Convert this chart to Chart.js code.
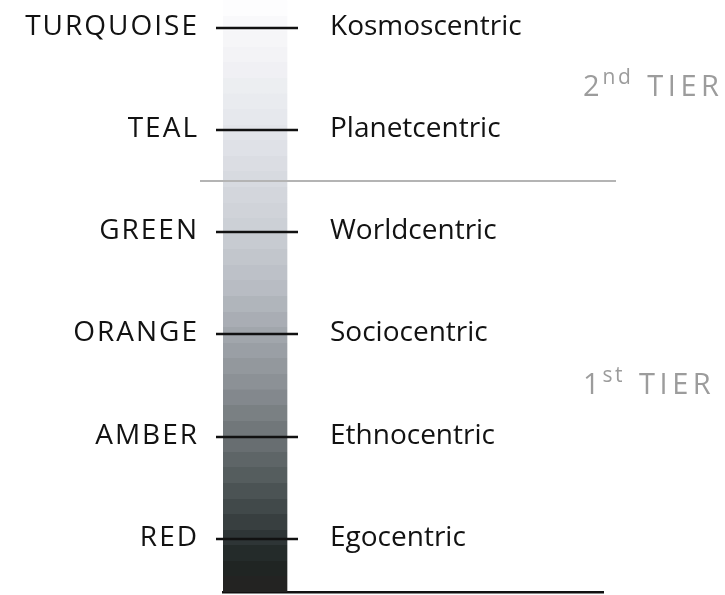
<!DOCTYPE html>
<html><head><meta charset="utf-8">
<script src="https://cdn.jsdelivr.net/npm/chart.js@4"></script>
<style>html,body{margin:0;padding:0;background:#fff}#wrap{width:725px;height:595px;position:relative}</style>
</head><body><div id="wrap"><canvas id="c"></canvas></div>
<script>
// ---- data ----
const levels = ['RED', 'AMBER', 'ORANGE', 'GREEN', 'TEAL', 'TURQUOISE'];
const perspectives = ['Egocentric', 'Ethnocentric', 'Sociocentric', 'Worldcentric', 'Planetcentric', 'Kosmoscentric'];
const levelValues = [0, 1, 2, 3, 4, 5];
const barRange = [-0.52, 5.27];
const tierBoundary = 3.5;
const tierNumbers = ['1', '2'];
const tierOrdinals = ['st', 'nd'];
const tierWords = ['TIER', 'TIER'];
const tierValues = [1.42, 4.33];

// ---- style ----
const FONT = '"Open Sans", Lato, sans-serif';
const STRIPES = 38;
const colorStops = [
  [0.000, '#242222'], [0.054, '#1f2624'], [0.090, '#2d3435'], [0.189, '#525a5b'],
  [0.262, '#6c7275'], [0.358, '#8d9297'], [0.438, '#a2a7ad'], [0.510, '#b7bbc2'],
  [0.611, '#cbcfd5'], [0.693, '#d6d9df'], [0.784, '#e4e6eb'], [0.953, '#f8f8fa'], [1.000, '#ffffff']
];
function hex(c){return [1,3,5].map(i=>parseInt(c.substr(i,2),16));}
function colorAt(f){
  for(let i=0;i<colorStops.length-1;i++){
    const [f0,c0]=colorStops[i],[f1,c1]=colorStops[i+1];
    if(f>=f0&&f<=f1){const t=(f-f0)/(f1-f0);const a=hex(c0),b=hex(c1);
      return 'rgb('+a.map((v,k)=>Math.round(v+(b[k]-v)*t)).join(',')+')';}
  }
  return colorStops[colorStops.length-1][1];
}
function stripeFill(ctx){
  const chart=ctx.chart, ys=chart.scales.y;
  if(!chart.chartArea||!ys) return '#888';
  const yb=ys.getPixelForValue(barRange[0]), yt=ys.getPixelForValue(barRange[1]);
  const g=chart.ctx.createLinearGradient(0,yb,0,yt);
  for(let i=0;i<STRIPES;i++){
    const c=colorAt((i+0.5)/STRIPES);
    g.addColorStop(i/STRIPES,c);
    g.addColorStop(Math.min(1,(i+1)/STRIPES-0.0001),c);
  }
  return g;
}

const spacing = {
  id:'spacing',
  beforeDraw(chart){ chart.ctx.letterSpacing='2px'; },
  afterDraw(chart){ chart.ctx.letterSpacing='0px'; }
};

const overlay = {
  id:'overlay',
  afterDatasetsDraw(chart){
    const c=chart.ctx, ys=chart.scales.y, a=chart.chartArea;
    const barL=a.left, barR=a.left+64;
    c.save();
    c.letterSpacing='0px';
    // tier separator
    const sy=Math.round(ys.getPixelForValue(tierBoundary));
    c.strokeStyle='#b4b4b4'; c.lineWidth=2;
    c.beginPath(); c.moveTo(a.left-23,sy); c.lineTo(a.right+13,sy); c.stroke();
    // tick marks and right labels
    c.strokeStyle='#111'; c.lineWidth=2.3;
    c.fillStyle='#121212'; c.font='28px '+FONT; c.textAlign='left'; c.textBaseline='middle';
    levelValues.forEach((v,i)=>{
      const y=Math.round(ys.getPixelForValue(v));
      c.beginPath(); c.moveTo(barL-7,y); c.lineTo(barR+11,y); c.stroke();
      c.fillText(perspectives[i], a.left+107, y-1);
    });
    // tier labels
    c.fillStyle='#9c9c9c'; c.textBaseline='alphabetic';
    tierValues.forEach((v,i)=>{
      const y=ys.getPixelForValue(v);
      let x=a.right-20;
      c.letterSpacing='0px';
      c.font='29px '+FONT; c.fillText(tierNumbers[i],x,y);
      x+=c.measureText(tierNumbers[i]).width+3;
      c.letterSpacing='2.5px';
      c.font='21px '+FONT; c.fillText(tierOrdinals[i],x,y-12);
      x+=c.measureText(tierOrdinals[i]).width+14;
      c.letterSpacing='4.5px';
      c.font='29px '+FONT; c.fillText(tierWords[i],x,y);
    });
    c.restore();
  }
};

new Chart(document.getElementById('c'), {
  type:'bar',
  data:{datasets:[{data:[{x:32,y:barRange}], backgroundColor:stripeFill, borderWidth:0, barThickness:64}]},
  options:{
    responsive:true, maintainAspectRatio:false, animation:false,
    layout:{autoPadding:false,padding:{top:0,bottom:3,right:122,left:0}},
    plugins:{legend:{display:false},tooltip:{enabled:false}},
    scales:{
      x:{type:'linear',min:0,max:380,offset:false,
        grid:{display:false,drawTicks:false,offset:false},ticks:{display:false},
        border:{display:true,color:'#111',width:2.5},
        afterFit(s){s.height=0;s.paddingLeft=0;s.paddingRight=0;}},
      y:{type:'linear',min:barRange[0],max:barRange[1],
        afterBuildTicks(s){s.ticks=levelValues.map(v=>({value:v}));},
        grid:{display:false,drawTicks:false},border:{display:false},
        ticks:{padding:24,labelOffset:-1,color:'#121212',font:{family:FONT,size:28},
          callback:(v)=>levels[levelValues.indexOf(v)]},
        afterFit(s){s.width=223;s.paddingTop=0;s.paddingBottom=0;}}
    }
  },
  plugins:[spacing, overlay]
});
</script></body></html>
